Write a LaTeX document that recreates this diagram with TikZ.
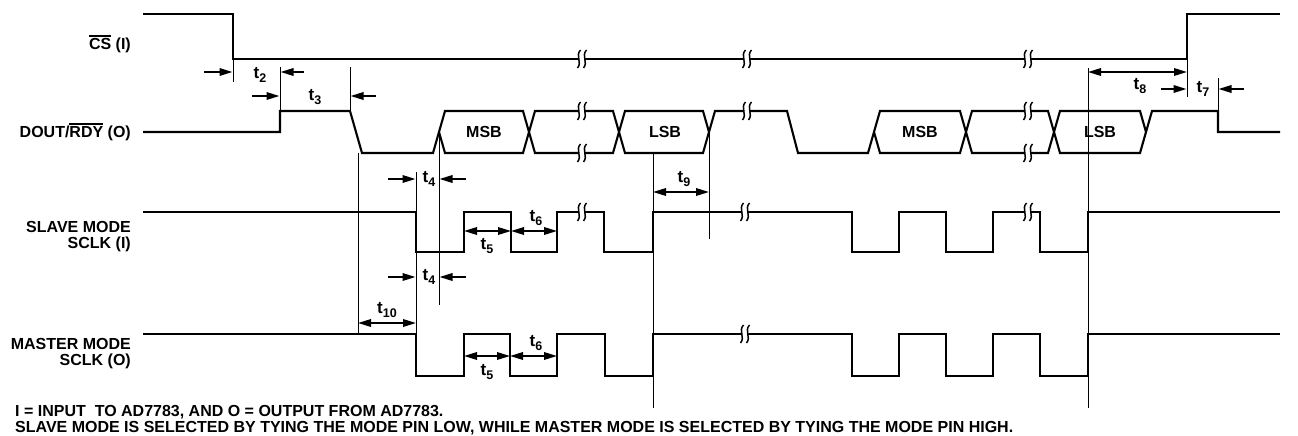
\documentclass[tikz,border=0pt]{standalone}
\usepackage{fontspec}
\setmainfont{Liberation Sans}
\usetikzlibrary{arrows.meta}
\newcommand\ovl[1]{{\setbox0\hbox{#1}\rlap{\raisebox{\dimexpr\ht0+1.6pt\relax}{\rule{\wd0}{1.4pt}}}\box0}}
\newcommand\tsub[1]{t\raisebox{-3.5pt}{\fontsize{12.5}{12.5}\selectfont #1}}
\begin{document}
\begin{tikzpicture}[x=1pt,y=-1pt,
  sig/.style={line width=2.1pt,line join=miter},
  thinl/.style={line width=0.9pt},
  arr/.style={line width=1.8pt,-{Triangle[length=13pt,width=7.5pt]}},
  darr/.style={line width=1.8pt,{Triangle[length=13pt,width=7.5pt]}-{Triangle[length=13pt,width=7.5pt]}},
  lbl/.style={font=\fontsize{16}{16}\selectfont\bfseries, inner sep=0pt},
  tl/.style={font=\fontsize{17}{17}\selectfont\bfseries, inner sep=0pt},
  fn/.style={font=\fontsize{16}{16}\selectfont\bfseries, inner sep=0pt, anchor=west},
  brk/.pic={
    \fill[white] (-3.2,-3) rectangle (3.2,3);
    \draw[line width=1.5pt] (-1.5,-9) .. controls (-7,-3) and (0.5,3) .. (-4.5,9);
    \draw[line width=1.5pt] (4.5,-9) .. controls (-1,-3) and (6.5,3) .. (1.5,9);
  }
]
\useasboundingbox (0,0) rectangle (1298,436);

% ---- labels
\node[lbl,anchor=east] (lcs) at (131,44) {\ovl{CS} (I)};
\node[lbl,anchor=east] (ldout) at (131,132) {DOUT/\ovl{RDY} (O)};
\node[lbl,anchor=east,align=right] (lslave) at (131,237) {SLAVE MODE\\[0pt]SCLK (I)};
\node[lbl,anchor=east,align=right] (lmaster) at (131,354) {MASTER MODE\\[0pt]SCLK (O)};

% ---- CS
\draw[sig] (143,14) -- (233,14) -- (233,59) -- (1187,59) -- (1187,14) -- (1280,14);

% ---- DOUT
\draw[sig] (143,132) -- (280,132) -- (280,111) -- (350,111) -- (362,153) -- (433,153) -- (445,111)
  -- (523,111) -- (535,153) -- (613,153) -- (625,111) -- (703,111) -- (709,132);
\draw[sig] (439,132) -- (445,153) -- (523,153) -- (535,111) -- (613,111) -- (625,153) -- (703,153)
  -- (715,111) -- (787,111) -- (798,153) -- (868,153) -- (880,111) -- (960,111) -- (972,153)
  -- (1048,153) -- (1060,111) -- (1140,111) -- (1146,132);
\draw[sig] (874,132) -- (880,153) -- (960,153) -- (972,111) -- (1048,111) -- (1060,153) -- (1140,153)
  -- (1152,111) -- (1218,111) -- (1218,132) -- (1280,132);
\node[lbl] (msb1) at (484,132) {MSB};
\node[lbl] (lsb1) at (665,132) {LSB};
\node[lbl] (msb2) at (920,132) {MSB};
\node[lbl] (lsb2) at (1100,132) {LSB};

% ---- SCLK slave
\draw[sig] (143,212) -- (416,212) -- (416,252) -- (464,252) -- (464,212) -- (511,212) -- (511,252)
  -- (557,252) -- (557,212) -- (604,212) -- (604,252) -- (653,252) -- (653,212) -- (852,212)
  -- (852,252) -- (899,252) -- (899,212) -- (946,212) -- (946,252) -- (993,252) -- (993,212)
  -- (1040,212) -- (1040,252) -- (1088,252) -- (1088,212) -- (1280,212);
% ---- SCLK master
\draw[sig] (143,334) -- (416,334) -- (416,376) -- (464,376) -- (464,334) -- (510,334) -- (510,376)
  -- (557,376) -- (557,334) -- (605,334) -- (605,376) -- (653,376) -- (653,334) -- (852,334)
  -- (852,376) -- (899,376) -- (899,334) -- (946,334) -- (946,376) -- (993,376) -- (993,334)
  -- (1040,334) -- (1040,376) -- (1088,376) -- (1088,334) -- (1280,334);

% ---- breaks
\foreach \x in {582,747,1028} { \pic at (\x,59) {brk}; }
\pic at (582,111) {brk}; \pic at (582,153) {brk};
\pic at (747,111) {brk};
\pic at (1028,111) {brk}; \pic at (1028,153) {brk};
\pic at (582,212) {brk}; \pic at (745,212) {brk}; \pic at (1028,212) {brk};
\pic at (745,334) {brk};

% ---- reference lines
\draw[thinl] (233,59) -- (233,82);
\draw[thinl] (280,67) -- (280,111);
\draw[thinl] (350,67) -- (350,111);
\draw[thinl] (358,153) -- (358,334);
\draw[thinl] (416,172) -- (416,334);
\draw[thinl] (439,132) -- (439,305);
\draw[thinl] (653,153) -- (653,408);
\draw[thinl] (709,132) -- (709,239);
\draw[thinl] (1088,68) -- (1088,408);
\draw[thinl] (1187,59) -- (1187,97);
\draw[thinl] (1218,78) -- (1218,111);

% ---- timing arrows
\coordinate (a2l) at (204,72); \coordinate (a2le) at (232.5,72);
\coordinate (a2r) at (304,72); \coordinate (a2re) at (280.5,72);
\draw[arr] (a2l) -- (a2le); \draw[arr] (a2r) -- (a2re);
\node[tl] (t2) at (260,75) {\tsub{2}};

\coordinate (a3l) at (252,96); \coordinate (a3le) at (279.5,96);
\coordinate (a3r) at (376,96); \coordinate (a3re) at (350.5,96);
\draw[arr] (a3l) -- (a3le); \draw[arr] (a3r) -- (a3re);
\node[tl] (t3) at (315,97) {\tsub{3}};

\coordinate (a4l) at (388,179); \coordinate (a4le) at (415.5,179);
\coordinate (a4r) at (466,179); \coordinate (a4re) at (439.5,179);
\draw[arr] (a4l) -- (a4le); \draw[arr] (a4r) -- (a4re);
\node[tl] (t4a) at (429,179) {\tsub{4}};

\coordinate (b4l) at (388,277); \coordinate (b4le) at (415.5,277);
\coordinate (b4r) at (466,277); \coordinate (b4re) at (439.5,277);
\draw[arr] (b4l) -- (b4le); \draw[arr] (b4r) -- (b4re);
\node[tl] (t4b) at (429,277) {\tsub{4}};

\coordinate (s5a) at (464,231); \coordinate (s5b) at (511,231); \coordinate (s6b) at (557,231);
\draw[darr] (s5a) -- (s5b); \draw[darr] (s5b) -- (s6b);
\node[tl] (t5a) at (487,246) {\tsub{5}};
\node[tl] (t6a) at (536,218) {\tsub{6}};

\coordinate (m5a) at (464,356); \coordinate (m5b) at (510,356); \coordinate (m6b) at (557,356);
\draw[darr] (m5a) -- (m5b); \draw[darr] (m5b) -- (m6b);
\node[tl] (t5b) at (487,372) {\tsub{5}};
\node[tl] (t6b) at (536,343) {\tsub{6}};

\coordinate (a9l) at (653,192); \coordinate (a9r) at (709,192);
\draw[darr] (a9l) -- (a9r);
\node[tl] (t9) at (684,179) {\tsub{9}};

\coordinate (a10l) at (358,323); \coordinate (a10r) at (416,323);
\draw[darr] (a10l) -- (a10r);
\node[tl] (t10) at (387,310) {\tsub{10}};

\coordinate (a8l) at (1088,72); \coordinate (a8r) at (1187,72);
\draw[darr] (a8l) -- (a8r);
\node[tl] (t8) at (1140,86) {\tsub{8}};

\coordinate (a7l) at (1161,89); \coordinate (a7le) at (1186.5,89);
\coordinate (a7r) at (1244,89); \coordinate (a7re) at (1218.5,89);
\draw[arr] (a7l) -- (a7le); \draw[arr] (a7r) -- (a7re);
\node[tl] (t7) at (1203,89) {\tsub{7}};

% ---- footnotes
\node[fn] (fn1) at (15,412) {I = INPUT\ \ TO AD7783, AND O = OUTPUT FROM AD7783.};
\node[fn] (fn2) at (15,428) {SLAVE MODE IS SELECTED BY TYING THE MODE PIN LOW, WHILE MASTER MODE IS SELECTED BY TYING THE MODE PIN HIGH.};
\end{tikzpicture}
\end{document}
